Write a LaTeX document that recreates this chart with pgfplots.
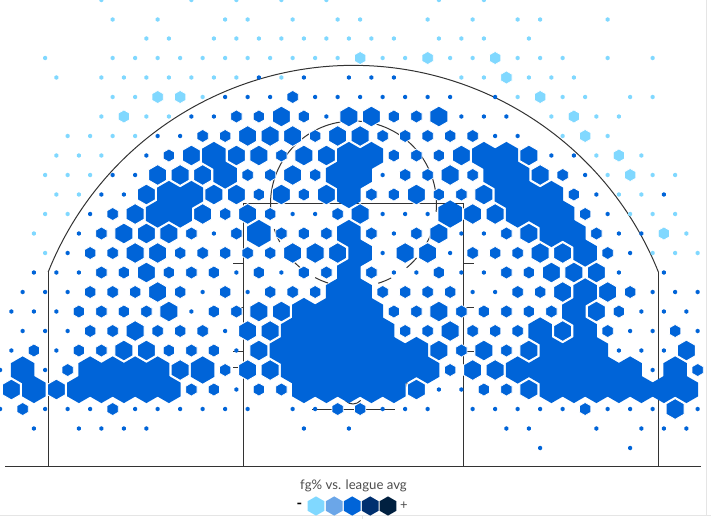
\documentclass[border=0pt]{standalone}
\usepackage{pgfplots}
\pgfplotsset{compat=1.18}
\usepackage{fontspec}
\setmainfont{Lato}
\definecolor{hL}{HTML}{80D8FF}
\definecolor{hB}{HTML}{0064D8}
\definecolor{hA}{HTML}{6BA6E8}
\definecolor{hC}{HTML}{003070}
\definecolor{hD}{HTML}{002040}
\definecolor{court}{HTML}{333333}
\pgfdeclareplotmark{hexa}{%
  \pgfpathmoveto{\pgfqpointpolar{90}{\pgfplotmarksize}}%
  \pgfpathlineto{\pgfqpointpolar{150}{\pgfplotmarksize}}%
  \pgfpathlineto{\pgfqpointpolar{210}{\pgfplotmarksize}}%
  \pgfpathlineto{\pgfqpointpolar{270}{\pgfplotmarksize}}%
  \pgfpathlineto{\pgfqpointpolar{330}{\pgfplotmarksize}}%
  \pgfpathlineto{\pgfqpointpolar{30}{\pgfplotmarksize}}%
  \pgfpathclose
  \pgfusepathqfillstroke}
\pgfdeclareplotmark{hexf}{%
  \pgfpathmoveto{\pgfqpointpolar{90}{\pgfplotmarksize}}%
  \pgfpathlineto{\pgfqpointpolar{150}{\pgfplotmarksize}}%
  \pgfpathlineto{\pgfqpointpolar{210}{\pgfplotmarksize}}%
  \pgfpathlineto{\pgfqpointpolar{270}{\pgfplotmarksize}}%
  \pgfpathlineto{\pgfqpointpolar{330}{\pgfplotmarksize}}%
  \pgfpathlineto{\pgfqpointpolar{30}{\pgfplotmarksize}}%
  \pgfpathclose
  \pgfusepathqfill}
\pgfplotsset{
  hexX/.style={only marks,mark=hexf,mark size=13.6bp,mark options={fill=#1}},
  hexM/.style={only marks,mark=hexa,mark size=10.4bp,mark options={fill=#1,draw=white,line width=0.9bp}},
  hexS/.style={only marks,mark=hexa,mark size=6.5bp,mark options={fill=#1,draw=white,line width=0.7bp}},
  hexD/.style={only marks,mark=hexf,mark size=2.3bp,mark options={fill=#1}},
}
\begin{document}
\begin{tikzpicture}
\begin{axis}[
  scale only axis,width=711bp,height=522bp,
  xmin=0,xmax=711,ymin=0,ymax=522,y dir=reverse,
  hide axis,clip=true,
]
% frame edges of the page
\addplot[color=black!10,line width=1bp] coordinates {(706.5,0) (706.5,515)};
\addplot[color=black!10,line width=1bp] coordinates {(0,515.5) (711,515.5)};
\addplot[color=black!10,line width=1bp] coordinates {(362,515) (362,519)};
% court
\addplot[color=court,line width=1bp] coordinates {(5,466.5) (701,466.5)};
\addplot[color=court,line width=1bp] coordinates {(48.2,466) (48.2,272)};
\addplot[color=court,line width=1bp] coordinates {(658.2,466) (658.2,272)};
\addplot[color=court,line width=1bp] coordinates {(243.5,466) (243.5,203.8) (463,203.8) (463,466)};
\addplot[color=court,line width=1bp] coordinates {(312,409.5) (395,409.5)};
\addplot[color=court,line width=1bp] coordinates {(233,263.5) (243,263.5)};
\addplot[color=court,line width=1bp] coordinates {(233,307.5) (243,307.5)};
\addplot[color=court,line width=1bp] coordinates {(233,351.5) (243,351.5)};
\addplot[color=court,line width=1bp] coordinates {(233,367.5) (243,367.5)};
\addplot[color=court,line width=1bp] coordinates {(463,263.5) (474,263.5)};
\addplot[color=court,line width=1bp] coordinates {(463,307.5) (474,307.5)};
\addplot[color=court,line width=1bp] coordinates {(463,351.5) (474,351.5)};
\addplot[color=court,line width=1bp] coordinates {(463,367.5) (474,367.5)};
\draw[court,line width=1bp] (axis cs:48.2,272) arc[start angle=158.2,end angle=21.8,radius=328.6bp];
\draw[court,line width=1bp] (axis cs:270.5,204) arc[start angle=180,end angle=0,radius=83bp];
\draw[court,line width=1bp,dash pattern=on 14bp off 18.5bp,dash phase=7bp] (axis cs:270.5,204) arc[start angle=180,end angle=360,radius=83bp];
\draw[court,line width=1bp] (axis cs:353,404) arc[start angle=270,end angle=320,radius=10bp];
\draw[court,line width=1bp] (axis cs:343,394) arc[start angle=180,end angle=270,radius=10bp];
\draw[court,line width=1bp] (axis cs:408,394) arc[start angle=0,end angle=180,radius=55bp];
% light dots
\addplot[hexD=hL] coordinates {
(101.4,0)(191.4,0)(236.4,0)(281.4,0)(326.4,0)(438.9,0)(483.9,0)
(112.65,19.5)(157.65,19.5)(225.15,19.5)(247.65,19.5)(292.65,19.5)(337.65,19.5)(360.15,19.5)(427.65,19.5)(472.65,19.5)(517.65,19.5)(540.15,19.5)(607.65,19.5)
(146.4,38.5)(168.9,38.5)(213.9,38.5)(236.4,38.5)(258.9,38.5)(281.4,38.5)(303.9,38.5)(326.4,38.5)(348.9,38.5)(371.4,38.5)(393.9,38.5)(438.9,38.5)(461.4,38.5)(483.9,38.5)(528.9,38.5)
(45.15,58)(112.65,58)(135.15,58)(157.65,58)(180.15,58)(202.65,58)(225.15,58)(247.65,58)(270.15,58)(292.65,58)(315.15,58)(337.65,58)(382.65,58)(405.15,58)(450.15,58)(472.65,58)(517.65,58)(540.15,58)(562.65,58)(607.65,58)(652.65,58)
(56.4,77.5)(101.4,77.5)(123.9,77.5)(146.4,77.5)(168.9,77.5)(191.4,77.5)(213.9,77.5)(236.4,77.5)(281.4,77.5)(461.4,77.5)(483.9,77.5)(528.9,77.5)(551.4,77.5)(573.9,77.5)
(112.65,97)(135.15,97)(202.65,97)(517.65,97)(562.65,97)(585.15,97)(630.15,97)(652.65,97)
(101.4,116.5)(146.4,116.5)(168.9,116.5)(551.4,116.5)(596.4,116.5)(618.9,116.5)
(67.65,136)(90.15,136)(112.65,136)(135.15,136)(562.65,136)(607.65,136)
(56.4,155.5)(78.9,155.5)(101.4,155.5)(596.4,155.5)(641.4,155.5)
(45.15,175)(67.65,175)(90.15,175)(607.65,175)(652.65,175)(675.15,175)
(56.4,194.5)(78.9,194.5)(618.9,194.5)(641.4,194.5)
(45.15,214)(67.65,214)(630.15,214)(652.65,214)(675.15,214)
(33.9,233.5)(686.4,233.5)
(45.15,253)(652.65,253)(675.15,253)(697.65,253)
};
% light hexagons
\addplot[hexS=hL] coordinates {
(360.15,58)(427.65,58)(495.15,58)(506.4,77.5)(157.65,97)(180.15,97)(540.15,97)
(123.9,116.5)(573.9,116.5)(585.15,136)(618.9,155.5)(630.15,175)(663.9,233.5)
};
% largest hexagons, which run together
\addplot[hexX=hB] coordinates {
(213.9,155.5)(348.9,155.5)(371.4,155.5)(483.9,155.5)(506.4,155.5)
(225.15,175)(337.65,175)(360.15,175)(495.15,175)(517.65,175)
(168.9,194.5)(191.4,194.5)(348.9,194.5)(506.4,194.5)(528.9,194.5)(551.4,194.5)
(157.65,214)(180.15,214)(450.15,214)(517.65,214)(540.15,214)(562.65,214)
(258.9,233.5)(348.9,233.5)(551.4,233.5)(573.9,233.5)
(360.15,253)(585.15,253)
(348.9,272.5)
(337.65,292)(360.15,292)(585.15,292)
(303.9,311.5)(326.4,311.5)(348.9,311.5)(371.4,311.5)(573.9,311.5)
(292.65,331)(315.15,331)(337.65,331)(360.15,331)(382.65,331)(540.15,331)(585.15,331)
(281.4,350.5)(303.9,350.5)(326.4,350.5)(348.9,350.5)(371.4,350.5)(393.9,350.5)(416.4,350.5)(551.4,350.5)(573.9,350.5)(596.4,350.5)
(22.65,370)(90.15,370)(112.65,370)(135.15,370)(157.65,370)(202.65,370)(292.65,370)(315.15,370)(337.65,370)(360.15,370)(382.65,370)(405.15,370)(427.65,370)(517.65,370)(540.15,370)(562.65,370)(585.15,370)(607.65,370)(630.15,370)(675.15,370)
(33.9,389.5)(78.9,389.5)(101.4,389.5)(123.9,389.5)(146.4,389.5)(168.9,389.5)(303.9,389.5)(326.4,389.5)(348.9,389.5)(371.4,389.5)(393.9,389.5)(551.4,389.5)(573.9,389.5)(596.4,389.5)(618.9,389.5)(641.4,389.5)(663.9,389.5)(686.4,389.5)
};
% large hexagons
\addplot[hexM=hB] coordinates {
(281.4,116.5)(348.9,116.5)(371.4,116.5)(438.9,116.5)
(247.65,136)(270.15,136)(292.65,136)(337.65,136)(360.15,136)
(191.4,155.5)(236.4,155.5)(258.9,155.5)(303.9,155.5)(326.4,155.5)(461.4,155.5)(528.9,155.5)
(157.65,175)(180.15,175)(202.65,175)(292.65,175)(450.15,175)(540.15,175)
(146.4,194.5)(213.9,194.5)(236.4,194.5)(281.4,194.5)(326.4,194.5)(416.4,194.5)(483.9,194.5)
(135.15,214)(202.65,214)(247.65,214)(360.15,214)(472.65,214)(495.15,214)
(123.9,233.5)(146.4,233.5)(168.9,233.5)(438.9,233.5)(528.9,233.5)
(135.15,253)(157.65,253)(292.65,253)(315.15,253)(337.65,253)(405.15,253)(427.65,253)(540.15,253)(562.65,253)
(146.4,272.5)(551.4,272.5)(573.9,272.5)(596.4,272.5)
(157.65,292)(562.65,292)(607.65,292)
(168.9,311.5)(258.9,311.5)(281.4,311.5)(438.9,311.5)(596.4,311.5)
(135.15,331)(247.65,331)(270.15,331)(450.15,331)(562.65,331)
(123.9,350.5)(146.4,350.5)(258.9,350.5)(438.9,350.5)(483.9,350.5)(528.9,350.5)(686.4,350.5)
(180.15,370)(247.65,370)(270.15,370)(472.65,370)(495.15,370)
(11.4,389.5)(56.4,389.5)(416.4,389.5)(528.9,389.5)
(675.15,409)
};
% small hexagons
\addplot[hexS=hB] coordinates {
(292.65,97)
(236.4,116.5)(258.9,116.5)(303.9,116.5)(393.9,116.5)(416.4,116.5)
(202.65,136)(225.15,136)(315.15,136)(382.65,136)(405.15,136)(427.65,136)(450.15,136)(472.65,136)
(168.9,155.5)(281.4,155.5)(393.9,155.5)(416.4,155.5)(438.9,155.5)
(247.65,175)(270.15,175)(315.15,175)(405.15,175)(427.65,175)(472.65,175)(562.65,175)
(258.9,194.5)(303.9,194.5)(371.4,194.5)(393.9,194.5)(438.9,194.5)(461.4,194.5)(573.9,194.5)
(112.65,214)(225.15,214)(270.15,214)(337.65,214)(585.15,214)
(101.4,233.5)(191.4,233.5)(236.4,233.5)(281.4,233.5)(303.9,233.5)(326.4,233.5)(371.4,233.5)(416.4,233.5)(506.4,233.5)(596.4,233.5)
(90.15,253)(112.65,253)(180.15,253)(202.65,253)(225.15,253)(247.65,253)(270.15,253)(472.65,253)(495.15,253)(517.65,253)(607.65,253)
(101.4,272.5)(123.9,272.5)(168.9,272.5)(191.4,272.5)(213.9,272.5)(258.9,272.5)(303.9,272.5)(326.4,272.5)(371.4,272.5)(438.9,272.5)(506.4,272.5)(528.9,272.5)
(90.15,292)(112.65,292)(135.15,292)(180.15,292)(225.15,292)(270.15,292)(292.65,292)(315.15,292)(382.65,292)(405.15,292)(427.65,292)(450.15,292)(517.65,292)(540.15,292)(630.15,292)
(78.9,311.5)(101.4,311.5)(123.9,311.5)(146.4,311.5)(213.9,311.5)(236.4,311.5)(393.9,311.5)(416.4,311.5)(461.4,311.5)(483.9,311.5)(506.4,311.5)(528.9,311.5)(551.4,311.5)(618.9,311.5)
(90.15,331)(112.65,331)(157.65,331)(180.15,331)(202.65,331)(405.15,331)(427.65,331)(472.65,331)(495.15,331)(517.65,331)(607.65,331)(675.15,331)
(33.9,350.5)(78.9,350.5)(101.4,350.5)(168.9,350.5)(191.4,350.5)(213.9,350.5)(461.4,350.5)(506.4,350.5)
(67.65,370)(225.15,370)(450.15,370)(697.65,370)
(191.4,389.5)(213.9,389.5)(258.9,389.5)(281.4,389.5)(483.9,389.5)(506.4,389.5)
(22.65,409)(112.65,409)(337.65,409)(360.15,409)(585.15,409)
};
% blue dots
\addplot[hexD=hB] coordinates {
(258.9,77.5)(303.9,77.5)(348.9,77.5)(371.4,77.5)(393.9,77.5)
(225.15,97)(247.65,97)(270.15,97)(315.15,97)(337.65,97)(360.15,97)(382.65,97)(405.15,97)(427.65,97)(450.15,97)(495.15,97)
(191.4,116.5)(213.9,116.5)(326.4,116.5)(461.4,116.5)(483.9,116.5)(506.4,116.5)
(157.65,136)(180.15,136)(495.15,136)(517.65,136)
(146.4,155.5)(551.4,155.5)(573.9,155.5)
(112.65,175)(135.15,175)(382.65,175)(585.15,175)
(101.4,194.5)(123.9,194.5)(596.4,194.5)(663.9,194.5)
(90.15,214)(292.65,214)(315.15,214)(382.65,214)(405.15,214)(427.65,214)(607.65,214)
(78.9,233.5)(213.9,233.5)(393.9,233.5)(461.4,233.5)(483.9,233.5)(618.9,233.5)(641.4,233.5)
(67.65,253)(382.65,253)(450.15,253)(630.15,253)
(33.9,272.5)(56.4,272.5)(78.9,272.5)(236.4,272.5)(281.4,272.5)(393.9,272.5)(416.4,272.5)(461.4,272.5)(483.9,272.5)(618.9,272.5)(663.9,272.5)
(22.65,292)(45.15,292)(67.65,292)(202.65,292)(247.65,292)(472.65,292)(495.15,292)(652.65,292)(675.15,292)(697.65,292)
(11.4,311.5)(33.9,311.5)(56.4,311.5)(191.4,311.5)(641.4,311.5)(663.9,311.5)(686.4,311.5)
(22.65,331)(45.15,331)(67.65,331)(225.15,331)(630.15,331)(652.65,331)(697.65,331)
(11.4,350.5)(56.4,350.5)(236.4,350.5)(618.9,350.5)(641.4,350.5)(663.9,350.5)
(0.15,370)(45.15,370)(652.65,370)
(236.4,389.5)(438.9,389.5)(461.4,389.5)
(0.15,409)(45.15,409)(67.65,409)(90.15,409)(135.15,409)(157.65,409)(180.15,409)(202.65,409)(225.15,409)(247.65,409)(292.65,409)(315.15,409)(382.65,409)(405.15,409)(427.65,409)(472.65,409)(495.15,409)(517.65,409)(540.15,409)(562.65,409)(607.65,409)(630.15,409)(652.65,409)(697.65,409)
(33.9,428.5)(78.9,428.5)(101.4,428.5)(123.9,428.5)(146.4,428.5)(303.9,428.5)(348.9,428.5)(506.4,428.5)(528.9,428.5)(596.4,428.5)(641.4,428.5)(663.9,428.5)(686.4,428.5)
(540.15,448)(630.15,448)
};
% colour key
\addplot[only marks,mark=hexf,mark size=9.6bp,mark options={fill=hL}] coordinates {(316,506)};
\addplot[only marks,mark=hexf,mark size=9.6bp,mark options={fill=hA}] coordinates {(334.2,506)};
\addplot[only marks,mark=hexf,mark size=9.6bp,mark options={fill=hB}] coordinates {(352.2,506)};
\addplot[only marks,mark=hexf,mark size=9.6bp,mark options={fill=hC}] coordinates {(370.2,506)};
\addplot[only marks,mark=hexf,mark size=9.6bp,mark options={fill=hD}] coordinates {(388,506)};
\node[anchor=base,text=black!70,inner sep=0pt,font=\fontsize{13.2bp}{15bp}\selectfont] at (axis cs:353.5,489) {fg\% vs. league avg};
\node[anchor=center,text=black,inner sep=0pt,font=\bfseries\fontsize{15bp}{15bp}\selectfont] at (axis cs:299.3,506) {-};
\node[anchor=center,text=black!70,inner sep=0pt,font=\fontsize{13bp}{15bp}\selectfont] at (axis cs:404,506) {+};
\end{axis}
\pgfresetboundingbox
\path (current axis.south west) rectangle (current axis.north east);
\end{tikzpicture}
\end{document}
